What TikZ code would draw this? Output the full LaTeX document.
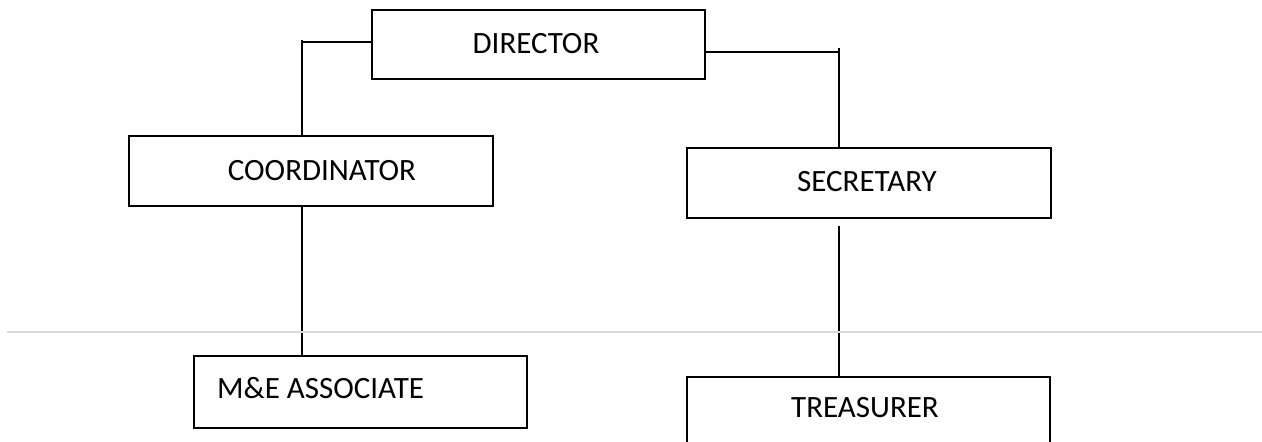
\documentclass[tikz,border=0pt]{standalone}
\usepackage{fontspec}
\setmainfont{Carlito}
\definecolor{rule}{HTML}{D9D9D9}
\begin{document}
\begin{tikzpicture}[x=1pt,y=-1pt,
  box/.style={draw=black,line width=1.5pt,rectangle,inner sep=0pt},
  lbl/.style={inner sep=0pt,font=\fontsize{31}{36}\selectfont},
  conn/.style={draw=black,line width=1.5pt},
  sep/.style={draw=rule,line width=2pt}]
\useasboundingbox (0,0) rectangle (1262,442);
% boxes
\node[box,minimum width=333pt,minimum height=69pt] (dir) at (538.5,44.5) {};
\node[box,minimum width=364pt,minimum height=70pt] (coord) at (311,171) {};
\node[box,minimum width=364pt,minimum height=70pt] (sec) at (869,183) {};
\node[box,minimum width=333pt,minimum height=72pt] (me) at (360.5,392) {};
\node[box,minimum width=363pt,minimum height=80pt] (tre) at (868.5,417) {};
% labels
\node[lbl] (dirT) at (536,44) {DIRECTOR};
\node[lbl] (coordT) at (322,171) {COORDINATOR};
\node[lbl] (secT) at (867,182) {SECRETARY};
\node[lbl,anchor=west] (meT) at (217,388) {M\&E ASSOCIATE};
\node[lbl] (treT) at (865,408) {TREASURER};
% connectors
\coordinate (lj) at (302,40);
\coordinate (lh) at (302,42);
\coordinate (rj) at (839,48);
\coordinate (rh) at (839,52);
\coordinate (st) at (839,226);
\draw[conn] (dir.west |- lh) -- (lh);
\draw[conn] (lj) -- (coord.north -| lj);
\draw[conn] (dir.east |- rh) -- (rh);
\draw[conn] (rj) -- (sec.north -| rj);
\draw[conn] (coord.south -| lj) -- (me.north -| lj);
\draw[conn] (st) -- (tre.north -| st);
% separator line
\coordinate (g1) at (7,332);
\coordinate (g2) at (1262,332);
\draw[sep] (g1) -- (g2);
\end{tikzpicture}
\end{document}
